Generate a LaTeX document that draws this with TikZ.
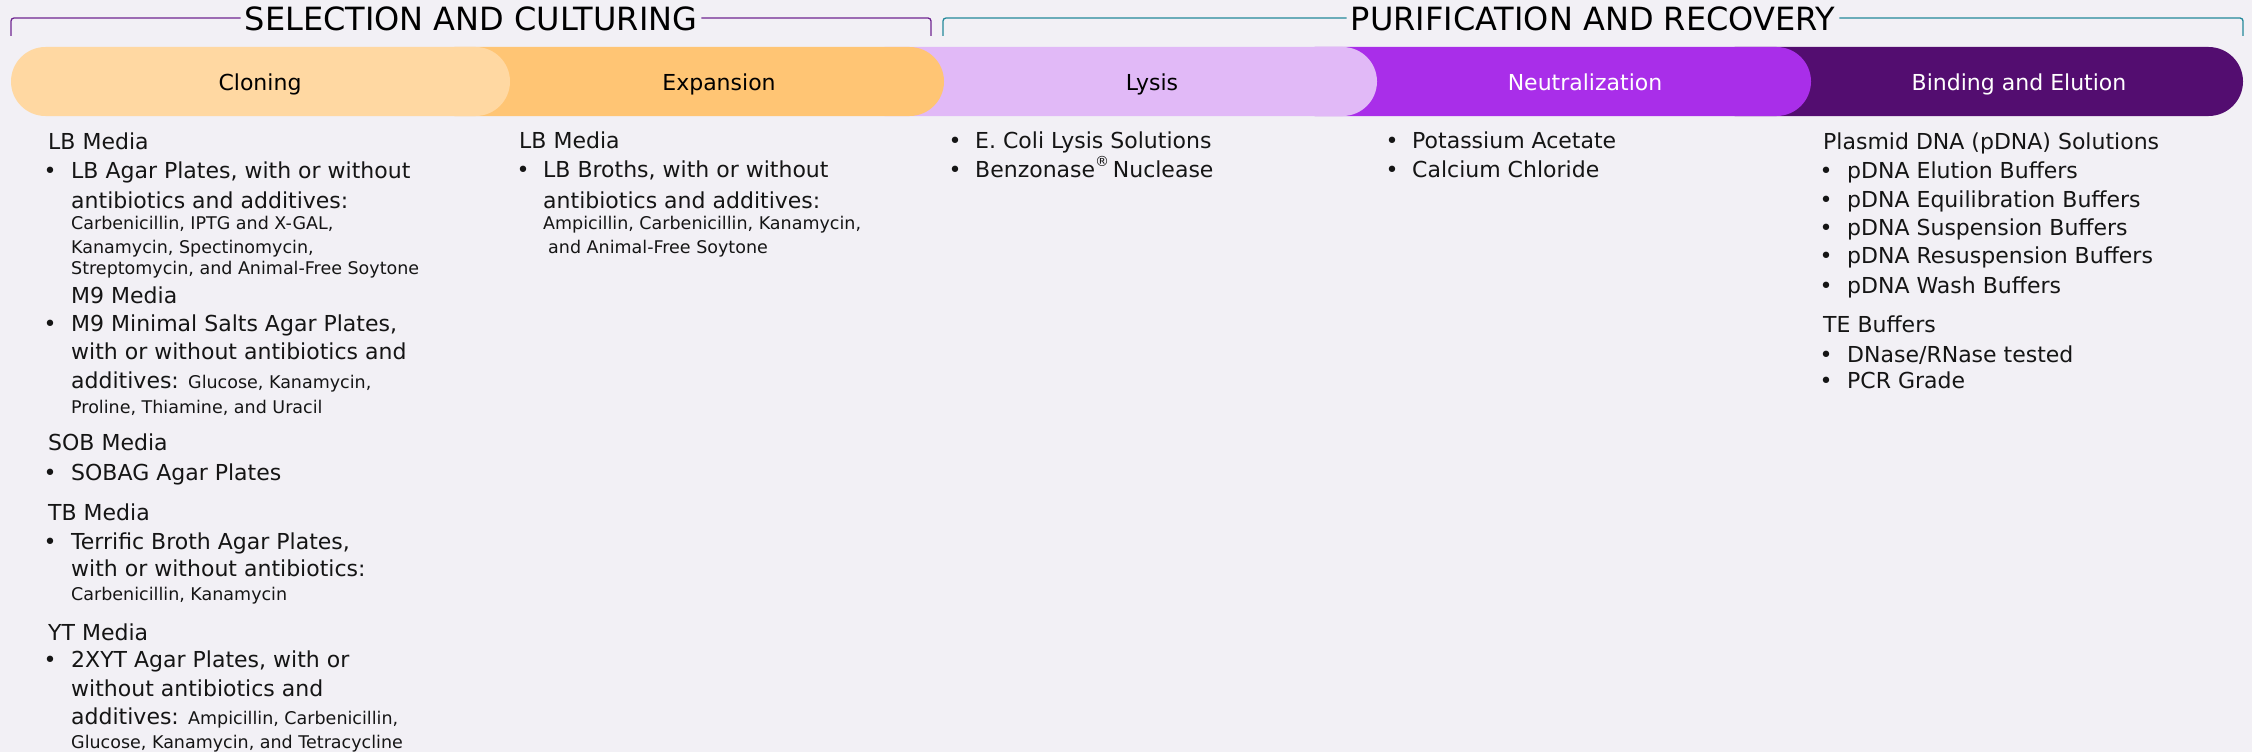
\documentclass[tikz,border=0pt]{standalone}
\usepackage{fontspec}
\setmainfont{DejaVu Sans}
\definecolor{bgc}{HTML}{F2F0F5}
\definecolor{ink}{HTML}{151515}
\definecolor{cClone}{HTML}{FFD8A2}
\definecolor{cExpand}{HTML}{FFC574}
\definecolor{cLysis}{HTML}{E1B9F7}
\definecolor{cNeutral}{HTML}{A92EE9}
\definecolor{cBind}{HTML}{530D70}
\definecolor{cPurple}{HTML}{6E2590}
\definecolor{cTeal}{HTML}{23899A}
\newcommand{\smallsz}{\fontsize{17.5}{21}\selectfont}
\begin{document}
\begin{tikzpicture}[x=1pt,y=-1pt,
  seg/.style={rectangle, rounded corners=34.5pt, minimum height=69pt, inner sep=0pt, draw=none},
  stagelbl/.style={anchor=base, inner sep=0pt, font=\fontsize{22}{26}\selectfont},
  title/.style={anchor=base, inner xsep=4pt, inner ysep=0pt, font=\fontsize{32}{36}\selectfont, text=black},
  brk/.style={line width=1.3pt, rounded corners=3pt},
  body/.style={anchor=base west, inner sep=0pt, text=ink, font=\fontsize{22}{26}\selectfont},
  sm/.style={anchor=base west, inner sep=0pt, text=ink, font=\smallsz},
  bul/.style={anchor=base, inner sep=0pt, text=ink, font=\fontsize{22}{26}\selectfont},
]
% canvas
\fill[bgc] (0,0) rectangle (2252,752);
\useasboundingbox (0,0) rectangle (2252,752);

% ---- group brackets ----
\node[title] (tSel) at (471,31) {SELECTION AND CULTURING};
\coordinate (selLB) at (11,36);  \coordinate (selLT) at (11,18);
\coordinate (selRB) at (931,36); \coordinate (selRT) at (931,18);
\draw[brk, draw=cPurple] (tSel.west |- selLT) -- (selLT) -- (selLB);
\draw[brk, draw=cPurple] (tSel.east |- selRT) -- (selRT) -- (selRB);

\node[title] (tPur) at (1593,31) {PURIFICATION AND RECOVERY};
\coordinate (purLB) at (943,36);  \coordinate (purLT) at (943,18);
\coordinate (purRB) at (2243,36); \coordinate (purRT) at (2243,18);
\draw[brk, draw=cTeal] (tPur.west |- purLT) -- (purLT) -- (purLB);
\draw[brk, draw=cTeal] (tPur.east |- purRT) -- (purRT) -- (purRB);

% ---- stage bar (right to left, each cap overlapping the next) ----
\node[seg, fill=cBind,    minimum width=543pt] (sBind)    at (1971.5,81.5) {};
\node[seg, fill=cNeutral, minimum width=531pt] (sNeutral) at (1545.5,81.5) {};
\node[seg, fill=cLysis,   minimum width=527pt] (sLysis)   at (1113.5,81.5) {};
\node[seg, fill=cExpand,  minimum width=524pt] (sExpand)  at (682,81.5) {};
\node[seg, fill=cClone,   minimum width=499pt] (sClone)   at (260.5,81.5) {};

\node[stagelbl, text=black] (lClone)   at (260,91)  {Cloning};
\node[stagelbl, text=black] (lExpand)  at (719,91)  {Expansion};
\node[stagelbl, text=black] (lLysis)   at (1152,91) {Lysis};
\node[stagelbl, text=white] (lNeutral) at (1585,91) {Neutralization};
\node[stagelbl, text=white] (lBind)    at (2019,91) {Binding and Elution};

% ---- Cloning column ----
\node[body] (a1)  at (48,149)  {LB Media};
\node[bul]  (ab1) at (50,178)  {•};
\node[body] (a2)  at (71,178)  {LB Agar Plates, with or without};
\node[body] (a3)  at (71,208)  {antibiotics and additives:};
\node[sm]   (a4)  at (71,229)  {Carbenicillin, IPTG and X-GAL,};
\node[sm]   (a5)  at (71,253)  {Kanamycin, Spectinomycin,};
\node[sm]   (a6)  at (71,274)  {Streptomycin, and Animal-Free Soytone};
\node[body] (a7)  at (71,303)  {M9 Media};
\node[bul]  (ab2) at (50,331)  {•};
\node[body] (a8)  at (71,331)  {M9 Minimal Salts Agar Plates,};
\node[body] (a9)  at (71,359)  {with or without antibiotics and};
\node[body] (a10) at (71,388)  {additives: {\smallsz Glucose, Kanamycin,}};
\node[sm]   (a11) at (71,413)  {Proline, Thiamine, and Uracil};
\node[body] (a12) at (48,450)  {SOB Media};
\node[bul]  (ab3) at (50,480)  {•};
\node[body] (a13) at (71,480)  {SOBAG Agar Plates};
\node[body] (a14) at (48,520)  {TB Media};
\node[bul]  (ab4) at (50,549)  {•};
\node[body] (a15) at (71,549)  {Terrific Broth Agar Plates,};
\node[body] (a16) at (71,576)  {with or without antibiotics:};
\node[sm]   (a17) at (71,600)  {Carbenicillin, Kanamycin};
\node[body] (a18) at (48,640)  {YT Media};
\node[bul]  (ab5) at (50,667)  {•};
\node[body] (a19) at (71,667)  {2XYT Agar Plates, with or};
\node[body] (a20) at (71,696)  {without antibiotics and};
\node[body] (a21) at (71,724)  {additives: {\smallsz Ampicillin, Carbenicillin,}};
\node[sm]   (a22) at (71,748)  {Glucose, Kanamycin, and Tetracycline};

% ---- Expansion column ----
\node[body] (b1)  at (519,148) {LB Media};
\node[bul]  (bb1) at (523,177) {•};
\node[body] (b2)  at (543,177) {LB Broths, with or without};
\node[body] (b3)  at (543,208) {antibiotics and additives:};
\node[sm]   (b4)  at (543,229) {Ampicillin, Carbenicillin, Kanamycin,};
\node[sm]   (b5)  at (548,253) {and Animal-Free Soytone};

% ---- Lysis column ----
\node[bul]  (cb1) at (955,148) {•};
\node[body] (c1)  at (975,148) {E. Coli Lysis Solutions};
\node[bul]  (cb2) at (955,177) {•};
\node[body] (c2)  at (975,177) {Benzonase\raisebox{0.5em}{\fontsize{14}{14}\selectfont ®}\,Nuclease};

% ---- Neutralization column ----
\node[bul]  (db1) at (1392,148) {•};
\node[body] (d1)  at (1412,148) {Potassium Acetate};
\node[bul]  (db2) at (1392,177) {•};
\node[body] (d2)  at (1412,177) {Calcium Chloride};

% ---- Binding and Elution column ----
\node[body] (e1)  at (1823,149) {Plasmid DNA (pDNA) Solutions};
\node[bul]  (eb1) at (1826,178) {•};
\node[body] (e2)  at (1847,178) {pDNA Elution Buffers};
\node[bul]  (eb2) at (1826,207) {•};
\node[body] (e3)  at (1847,207) {pDNA Equilibration Buffers};
\node[bul]  (eb3) at (1826,235) {•};
\node[body] (e4)  at (1847,235) {pDNA Suspension Buffers};
\node[bul]  (eb4) at (1826,263) {•};
\node[body] (e5)  at (1847,263) {pDNA Resuspension Buffers};
\node[bul]  (eb5) at (1826,293) {•};
\node[body] (e6)  at (1847,293) {pDNA Wash Buffers};
\node[body] (e7)  at (1823,332) {TE Buffers};
\node[bul]  (eb6) at (1826,362) {•};
\node[body] (e8)  at (1847,362) {DNase/RNase tested};
\node[bul]  (eb7) at (1826,388) {•};
\node[body] (e9)  at (1847,388) {PCR Grade};
\end{tikzpicture}
\end{document}
